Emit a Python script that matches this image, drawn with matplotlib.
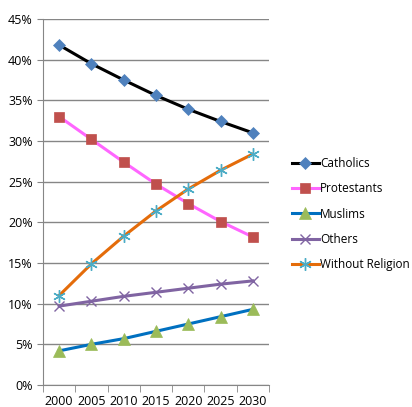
import numpy as np
import matplotlib.pyplot as plt
from matplotlib.ticker import FixedLocator

# Share of population by religion
years = ["2000", "2005", "2010", "2015", "2020", "2025", "2030"]
catholics = [41.8, 39.5, 37.5, 35.6, 33.9, 32.4, 31.0]
protestants = [33.0, 30.2, 27.4, 24.7, 22.3, 20.1, 18.2]
muslims = [4.2, 5.0, 5.7, 6.6, 7.5, 8.4, 9.3]
others = [9.7, 10.3, 10.9, 11.4, 11.9, 12.4, 12.8]
without_religion = [11.0, 14.9, 18.3, 21.4, 24.1, 26.4, 28.4]

plt.rcParams["font.family"] = ["Open Sans", "DejaVu Sans"]

fig = plt.figure(figsize=(4.12, 4.07), dpi=100)
ax = fig.add_axes([43 / 412, 22 / 407, 226 / 412, 366 / 407])

x = np.arange(len(years))

series = [
    ("Catholics", catholics, "black", "D", "#4F81BD", 6),
    ("Protestants", protestants, "#FF66FF", "s", "#C0504D", 7),
    ("Muslims", muslims, "#0070C0", "^", "#9BBB59", 8),
    ("Others", others, "#8064A2", "x", "#8064A2", 7),
    ("Without Religion", without_religion, "#E46C0A", (6, 2, 0), "#4BACC6", 9),
]

for name, vals, lc, mk, mc, ms in series:
    ax.plot(
        x,
        vals,
        color=lc,
        lw=2.2,
        marker=mk,
        markersize=ms,
        markerfacecolor=mc,
        markeredgecolor=mc,
        markeredgewidth=1.0 if mk in ("x", (6, 2, 0)) else 0.5,
        label=name,
        zorder=3,
    )

ax.set_xlim(-0.5, len(years) - 0.5)
ax.set_ylim(0, 45)
ax.set_yticks(np.arange(0, 46, 5))
ax.set_yticklabels([f"{v}%" for v in range(0, 46, 5)], fontsize=9)
ax.set_xticks(x)
ax.set_xticklabels(years, fontsize=9)
ax.xaxis.set_minor_locator(FixedLocator(np.arange(-0.5, len(years), 1)))
ax.tick_params(axis="x", which="major", length=0, pad=7)
ax.tick_params(axis="x", which="minor", length=5, color="#868686")
ax.tick_params(axis="y", length=4, color="#868686")

ax.grid(axis="y", color="#868686", lw=1)
ax.set_axisbelow(True)
for side in ["top", "right"]:
    ax.spines[side].set_visible(False)
for side in ["left", "bottom"]:
    ax.spines[side].set_color("#868686")

fig.legend(
    loc="center left",
    bbox_to_anchor=(287 / 412, 1 - 214 / 407),
    frameon=False,
    fontsize=8.5,
    handlelength=2.3,
    handletextpad=0.1,
    labelspacing=1.05,
    borderaxespad=0,
)

plt.savefig("out.png", dpi=100)
